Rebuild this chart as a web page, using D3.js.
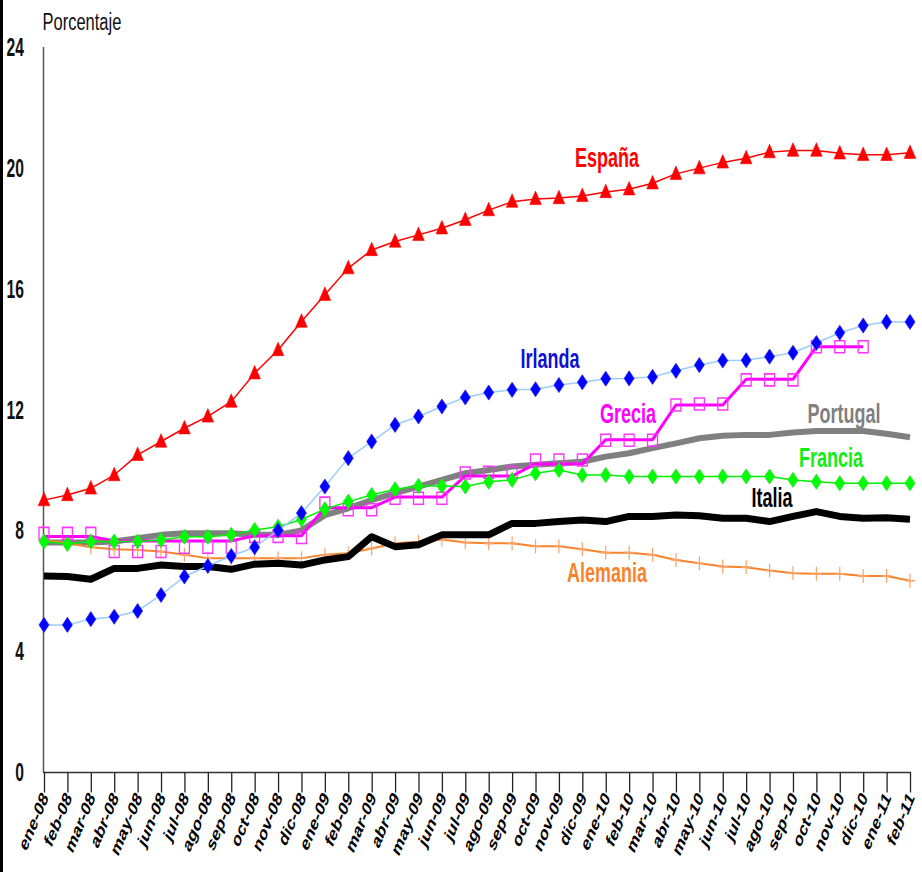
<!DOCTYPE html>
<html>
<head>
<meta charset="utf-8">
<script src="https://cdn.jsdelivr.net/npm/d3@7"></script>
<style>
  html, body { margin: 0; padding: 0; background: #fff; }
  svg { display: block; }
</style>
</head>
<body>
<div id="chart"></div>
<script>
// ---------- data ----------
const meses = ["ene-08","feb-08","mar-08","abr-08","may-08","jun-08","jul-08","ago-08","sep-08","oct-08","nov-08","dic-08",
  "ene-09","feb-09","mar-09","abr-09","may-09","jun-09","jul-09","ago-09","sep-09","oct-09","nov-09","dic-09",
  "ene-10","feb-10","mar-10","abr-10","may-10","jun-10","jul-10","ago-10","sep-10","oct-10","nov-10","dic-10",
  "ene-11","feb-11"];
const yTicks = [0, 4, 8, 12, 16, 20, 24];

const espana = [9.0, 9.17, 9.39, 9.83, 10.5, 10.94, 11.38, 11.77, 12.26, 13.2, 13.97, 14.91, 15.8, 16.68, 17.28, 17.56, 17.78, 18.0, 18.28,
  18.6, 18.88, 18.97, 19.0, 19.07, 19.2, 19.29, 19.49, 19.8, 19.99, 20.18, 20.32, 20.52, 20.57, 20.57, 20.48, 20.43, 20.43, 20.5];
const irlanda = [4.87, 4.87, 5.06, 5.14, 5.33, 5.86, 6.47, 6.82, 7.15, 7.44, 8.0, 8.57, 9.45, 10.39, 10.94, 11.49, 11.77, 12.1, 12.4,
  12.56, 12.65, 12.67, 12.81, 12.9, 13.02, 13.03, 13.08, 13.28, 13.47, 13.62, 13.63, 13.75, 13.88, 14.2, 14.54, 14.78, 14.9, 14.9];
const grecia = [7.8, 7.8, 7.8, 7.65, 7.65, 7.65, 7.65, 7.65, 7.65, 7.82, 7.82, 7.82, 8.75, 8.75, 8.75, 9.1, 9.1, 9.1,
  9.8, 9.8, 9.8, 10.2, 10.2, 10.2, 11.0, 11.0, 11.0, 12.15, 12.15, 12.15, 13.0, 13.0, 13.0, 14.08, 14.08, 14.08];
const greciaMarcas = [7.9, 7.9, 7.9, 7.3, 7.3, 7.3, 7.44, 7.44, 7.44, 7.8, 7.8, 7.76, 8.9, 8.68, 8.68, 9.06, 9.06, 9.06,
  9.9, 9.92, 9.92, 10.33, 10.33, 10.33, 10.98, 10.98, 10.98, 12.15, 12.18, 12.18, 12.98, 12.98, 12.98, 14.08, 14.08, 14.08];
const portugal = [7.6, 7.6, 7.6, 7.63, 7.74, 7.85, 7.9, 7.9, 7.9, 7.85, 7.85, 8.0, 8.5, 8.73, 9.0, 9.23, 9.45, 9.67, 9.89,
  10.0, 10.11, 10.17, 10.22, 10.27, 10.44, 10.55, 10.72, 10.88, 11.05, 11.13, 11.16, 11.16, 11.24, 11.29, 11.29, 11.29, 11.2, 11.08];
const francia = [7.63, 7.55, 7.63, 7.63, 7.63, 7.68, 7.79, 7.79, 7.85, 8.01, 8.12, 8.36, 8.7, 8.95, 9.17, 9.36, 9.47, 9.47, 9.45,
  9.61, 9.67, 9.89, 10.0, 9.83, 9.83, 9.78, 9.78, 9.78, 9.78, 9.78, 9.78, 9.78, 9.67, 9.61, 9.56, 9.56, 9.56, 9.56];
const italia = [6.49, 6.47, 6.38, 6.74, 6.74, 6.85, 6.8, 6.8, 6.71, 6.88, 6.91, 6.85, 7.02, 7.13, 7.79, 7.46, 7.52, 7.85, 7.85,
  7.85, 8.23, 8.23, 8.29, 8.34, 8.29, 8.46, 8.46, 8.51, 8.48, 8.4, 8.4, 8.29, 8.46, 8.62, 8.46, 8.4, 8.42, 8.37];
const alemania = [7.66, 7.59, 7.44, 7.37, 7.35, 7.3, 7.19, 7.08, 7.08, 7.08, 7.08, 7.08, 7.19, 7.24, 7.4, 7.57, 7.62, 7.7, 7.6,
  7.57, 7.57, 7.47, 7.47, 7.37, 7.26, 7.26, 7.19, 7.02, 6.91, 6.8, 6.78, 6.67, 6.58, 6.56, 6.56, 6.49, 6.49, 6.33];

// ---------- layout ----------
const W = 922, H = 872;
const SY = 1.5; // vertical stretch of glyphs
const svg = d3.select("#chart").append("svg").attr("width", W).attr("height", H);

const x = d3.scalePoint().domain(meses).range([44, 910]);
const y = d3.scaleLinear().domain([0, 24]).range([772, 47]);

// left frame border
svg.append("rect").attr("x", 0).attr("y", 0).attr("width", 3).attr("height", H).attr("fill", "#000");

function stretchedText(px, py, str, o) {
  const g = svg.append("g").attr("transform", `translate(${px},${py}) scale(${o.sx || 1},${o.sy || SY})${o.rot ? ` rotate(${o.rot})` : ""}`);
  g.append("text")
    .attr("x", 0).attr("y", 0)
    .attr("text-anchor", o.anchor || "start")
    .attr("font-family", o.family || "'Liberation Sans', Arial, sans-serif")
    .attr("font-weight", o.weight || "bold")
    .attr("font-size", o.size)
    .attr("fill", o.color || "#000")
    .text(str);
  return g;
}

// axis title
stretchedText(42.5, 29.5, "Porcentaje", {size: 16.5, weight: "normal", color: "#111", sy: 1.45});

// y axis
svg.append("line").attr("x1", 43.5).attr("x2", 43.5).attr("y1", y(24)).attr("y2", y(0))
  .attr("stroke", "#555").attr("stroke-width", 1.5);
yTicks.forEach(t => {
  stretchedText(24, y(t) + 9, String(t), {size: 17, anchor: "end", color: "#111", sy: 1.5, sx: 0.92});
});

// x axis
const xAxis = d3.axisBottom(x).tickSize(20).tickFormat("");
const gx = svg.append("g").attr("transform", `translate(0,${y(0) + 0.5})`).call(xAxis);
gx.select(".domain").attr("stroke", "#333").attr("stroke-width", 1.5).attr("d", `M43,0H911`);
gx.selectAll(".tick line").attr("stroke", "#222").attr("stroke-width", 1.3);
meses.forEach(m => {
  stretchedText(x(m) + 5, 798, m, {size: 13.5, anchor: "end", rot: -58, sy: 1.5, color: "#000"});
});

// ---------- series ----------
const line = d3.line().x((d, i) => x(meses[i])).y(d => y(d));

function drawLine(vals, color, width) {
  svg.append("path").datum(vals).attr("d", line)
    .attr("fill", "none").attr("stroke", color).attr("stroke-width", width)
    .attr("stroke-linejoin", "round");
}
function drawMarkers(vals, pathD, attrs, sy) {
  const g = svg.append("g");
  vals.forEach((v, i) => {
    const p = g.append("path")
      .attr("d", pathD)
      .attr("transform", `translate(${x(meses[i])},${y(v)}) scale(1,${sy})`);
    Object.entries(attrs).forEach(([k, val]) => p.attr(k, val));
  });
}

const triPath = "M0,-5.8L5.8,4.2L-5.8,4.2Z";
const diaPath = "M0,-5.2L5,0L0,5.2L-5,0Z";
const sqPath = "M-5,-5H5V5H-5Z";
const plusPath = "M-5,0H5M0,-5V5";

// Portugal
drawLine(portugal, "#808080", 6);
// Alemania
drawLine(alemania, "#F7842A", 2);
drawMarkers(alemania, plusPath, {fill: "none", stroke: "#F9A36A", "stroke-width": 1.2}, 1.4);
// Italia
drawLine(italia, "#000000", 7);
// Grecia
drawLine(grecia, "#FF00FF", 3);
drawMarkers(greciaMarcas, sqPath, {fill: "none", stroke: "#FF33FF", "stroke-width": 1.3}, 1.2);
// Francia
drawLine(francia, "#00EE00", 1.5);
drawMarkers(francia, diaPath, {fill: "#00FF00", stroke: "#22DD22", "stroke-width": 0.6}, 1.45);
// Irlanda
drawLine(irlanda, "#99CCFF", 1.5);
drawMarkers(irlanda, diaPath, {fill: "#0000FF", stroke: "#2222EE", "stroke-width": 0.6}, 1.45);
// España
drawLine(espana, "#FF0000", 1.5);
drawMarkers(espana, triPath, {fill: "#FF0000", stroke: "#FF0000", "stroke-width": 0.5}, 1.35);

// ---------- series labels ----------
const etiquetas = [
  {t: "España", x: 607, y: 167, c: "#FF0000"},
  {t: "Irlanda", x: 550, y: 368, c: "#1010D0"},
  {t: "Grecia", x: 628, y: 423, c: "#FF00FF"},
  {t: "Portugal", x: 844, y: 423, c: "#808080"},
  {t: "Francia", x: 831, y: 467, c: "#11EE11"},
  {t: "Italia", x: 772, y: 507, c: "#000000"},
  {t: "Alemania", x: 607, y: 582, c: "#F7842A"}
];
etiquetas.forEach(e => stretchedText(e.x, e.y, e.t, {size: 18, anchor: "middle", color: e.c, sy: 1.5}));
</script>
</body>
</html>
